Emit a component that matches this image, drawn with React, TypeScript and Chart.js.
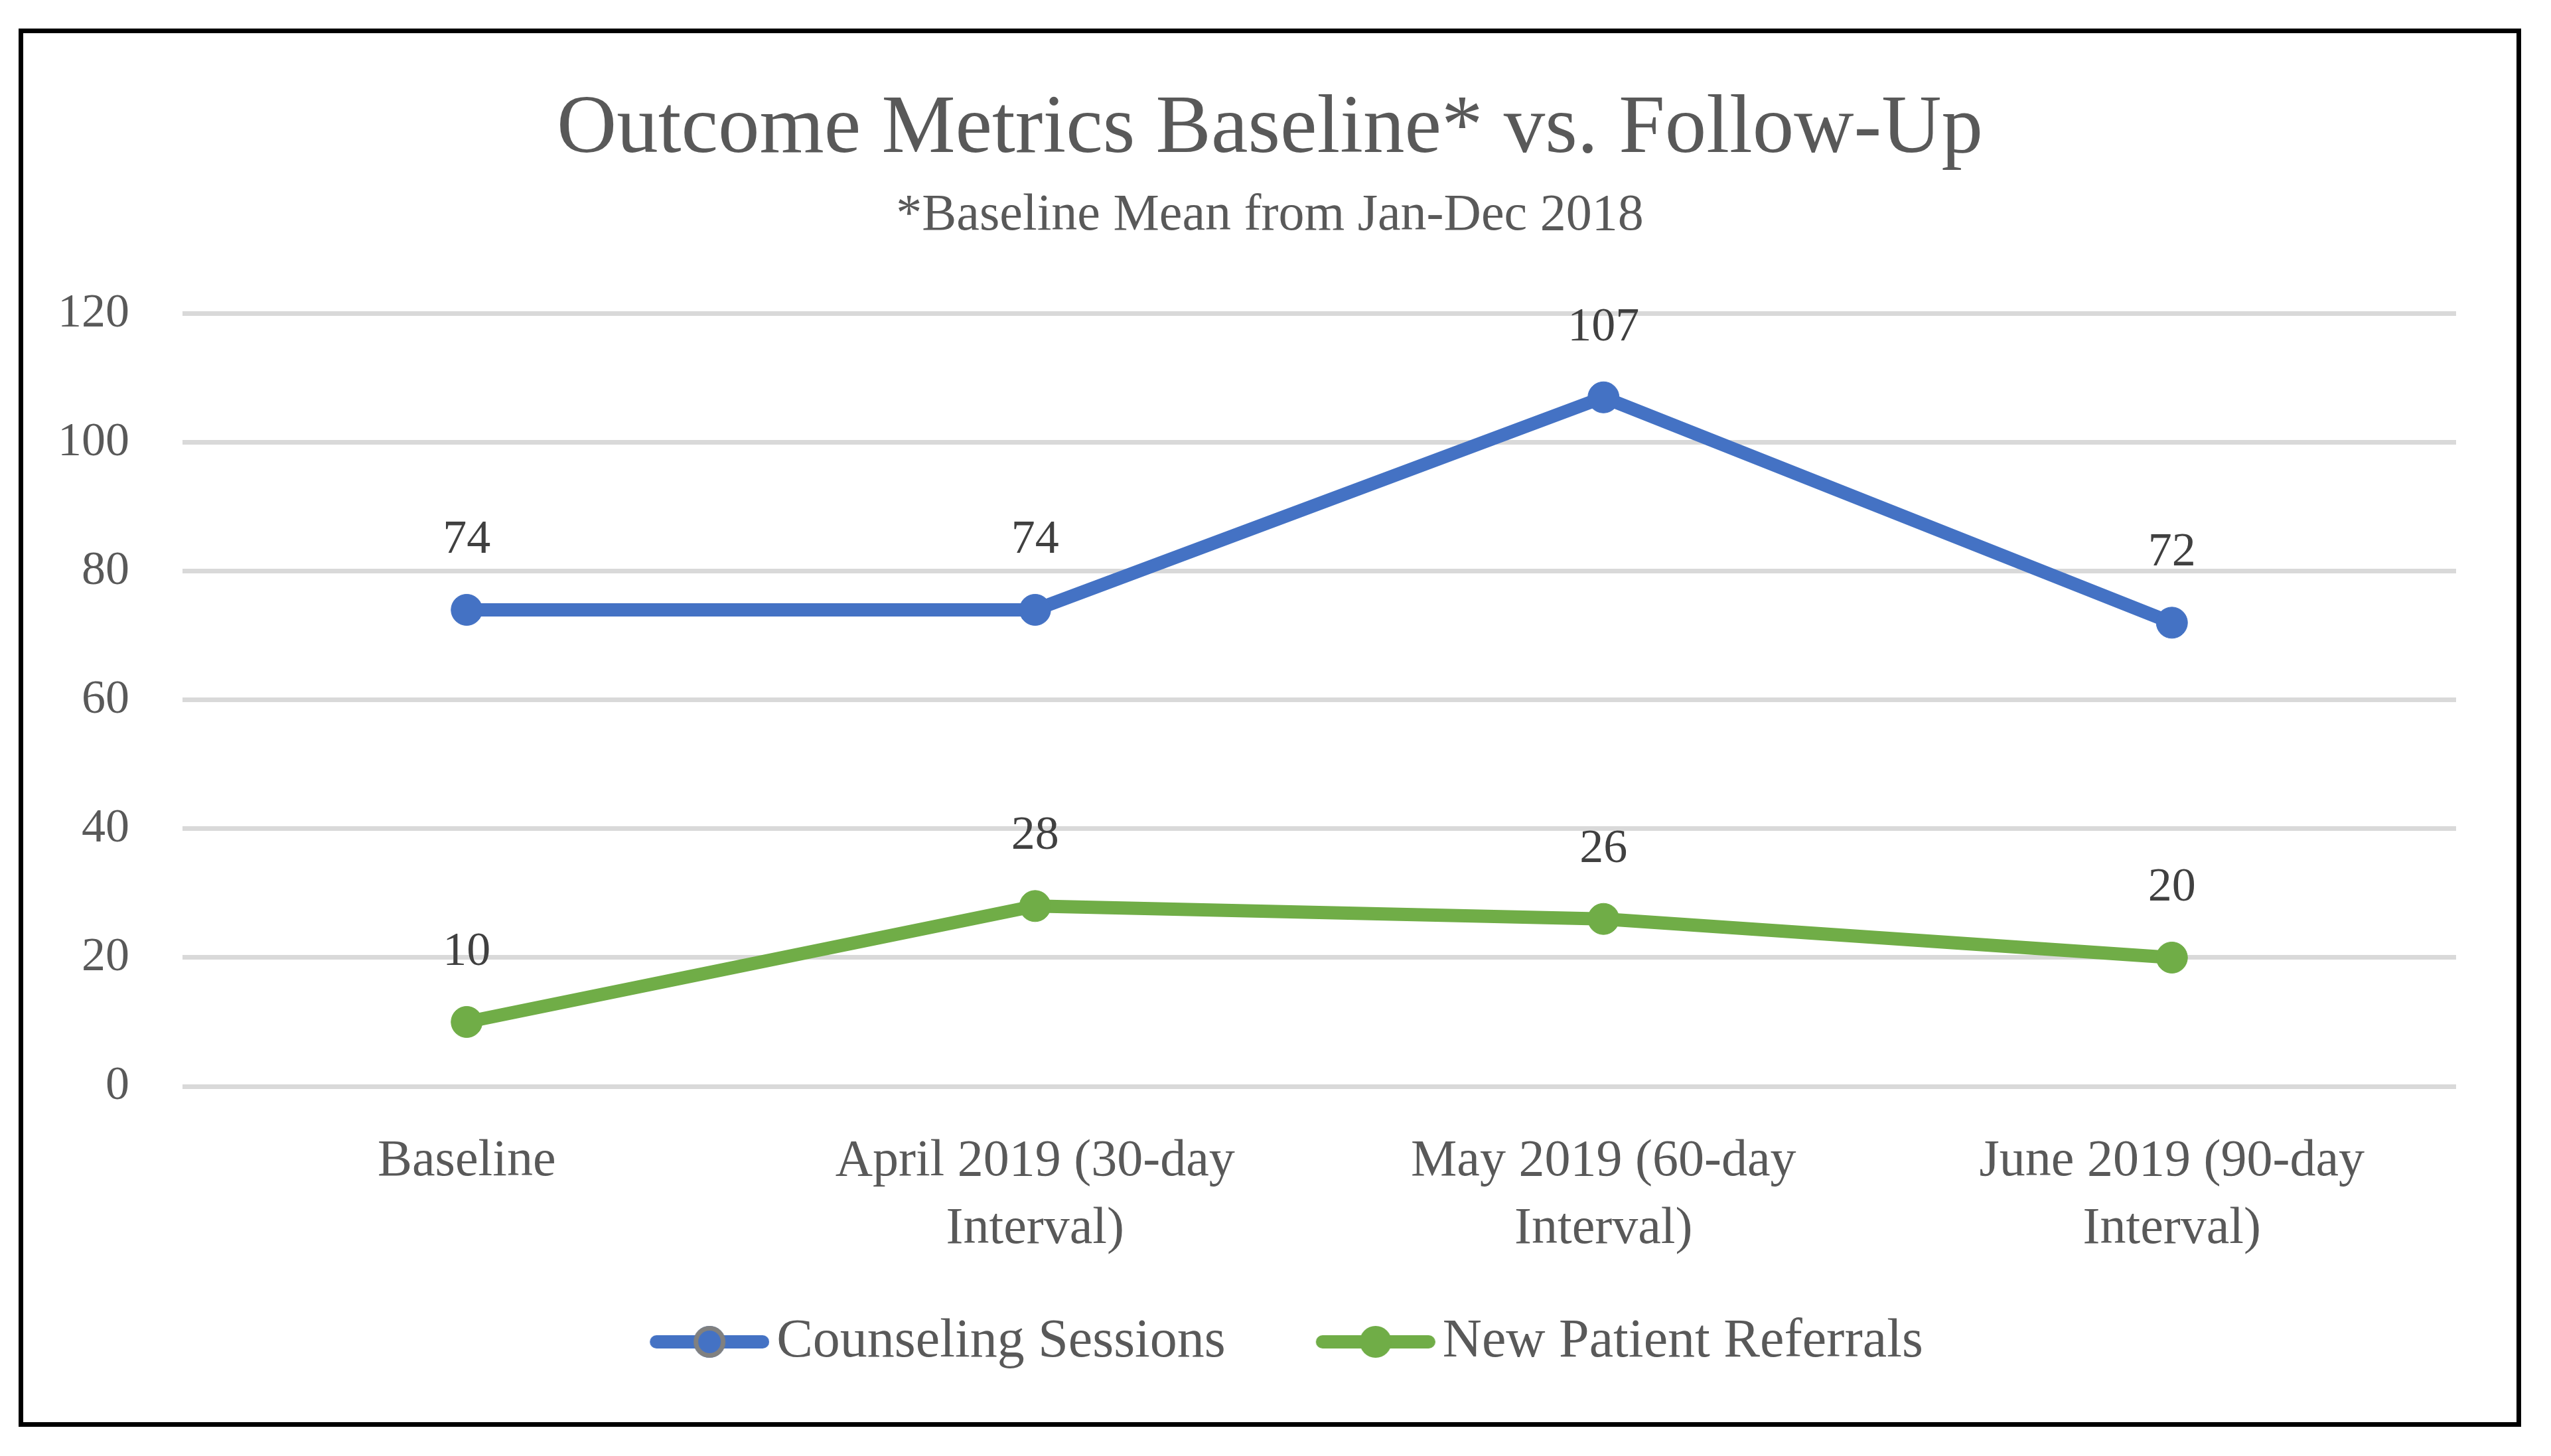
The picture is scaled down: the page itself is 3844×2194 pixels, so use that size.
import React, { useEffect, useRef } from 'react';
import { Chart, registerables } from 'chart.js';

Chart.register(...registerables);

const categories: (string | string[])[] = [
  'Baseline',
  ['April 2019 (30-day', 'Interval)'],
  ['May 2019 (60-day', 'Interval)'],
  ['June 2019 (90-day', 'Interval)'],
];
const counselingSessions = [74, 74, 107, 72];
const newPatientReferrals = [10, 28, 26, 20];
const seriesNames = ['Counseling Sessions', 'New Patient Referrals'];
const seriesColors = ['#4472C4', '#70AD47'];
const titleText = 'Outcome Metrics Baseline* vs. Follow-Up';
const subtitleText = '*Baseline Mean from Jan-Dec 2018';
const yMin = 0;
const yMax = 120;
const yStep = 20;

const FONT = "'Liberation Serif', 'Times New Roman', serif";

// Legend symbol: a thick line with a round marker, drawn into an image
function makeLegendImage(color: string, ring: string | null): HTMLCanvasElement {
  const c = document.createElement('canvas');
  c.width = 260;
  c.height = 52;
  const ctx = c.getContext('2d')!;
  ctx.lineCap = 'round';
  ctx.lineWidth = 20;
  ctx.strokeStyle = color;
  ctx.beginPath();
  ctx.moveTo(90, 26);
  ctx.lineTo(250, 26);
  ctx.stroke();
  ctx.fillStyle = color;
  ctx.beginPath();
  ctx.arc(170, 26, 24, 0, Math.PI * 2);
  ctx.fill();
  if (ring) {
    ctx.strokeStyle = ring;
    ctx.lineWidth = 7;
    ctx.beginPath();
    ctx.arc(170, 26, 20.5, 0, Math.PI * 2);
    ctx.stroke();
  }
  return c;
}

const valueLabels = {
  id: 'valueLabels',
  afterDatasetsDraw(chart: any) {
    const ctx = chart.ctx;
    ctx.save();
    ctx.font = `72px ${FONT}`;
    ctx.fillStyle = '#404040';
    ctx.textAlign = 'center';
    ctx.textBaseline = 'middle';
    chart.data.datasets.forEach((ds: any, i: number) => {
      const meta = chart.getDatasetMeta(i);
      meta.data.forEach((pt: any, j: number) => {
        ctx.fillText(String(ds.data[j]), pt.x, pt.y - 105);
      });
    });
    ctx.restore();
  },
};

export default function App() {
  const ref = useRef<HTMLCanvasElement | null>(null);

  useEffect(() => {
    if (!ref.current) return;
    const images = [makeLegendImage(seriesColors[0], '#808080'), makeLegendImage(seriesColors[1], null)];
    const mkDataset = (label: string, data: number[], color: string) => ({
      label,
      data,
      yAxisID: 'y',
      borderColor: color,
      backgroundColor: color,
      pointBackgroundColor: color,
      pointBorderColor: color,
      borderWidth: 20,
      pointRadius: 23.5,
      pointBorderWidth: 1,
      borderJoinStyle: 'round',
      borderCapStyle: 'round',
      tension: 0,
    });
    const chart = new Chart(ref.current, {
      type: 'line',
      data: {
        labels: categories,
        datasets: [
          mkDataset(seriesNames[0], counselingSessions, seriesColors[0]),
          mkDataset(seriesNames[1], newPatientReferrals, seriesColors[1]),
        ],
      },
      options: {
        responsive: false,
        animation: false,
        layout: { padding: { top: 0, left: 0, right: 0, bottom: 70 } },
        plugins: {
          tooltip: { enabled: false },
          title: {
            display: true,
            text: titleText,
            color: '#595959',
            font: { family: FONT, size: 125, weight: 'normal', lineHeight: 1.2 },
            padding: { top: 71, bottom: 0 },
          },
          subtitle: {
            display: true,
            text: subtitleText,
            color: '#595959',
            font: { family: FONT, size: 78, weight: 'normal', lineHeight: 1.2 },
            padding: { top: 8, bottom: 100 },
          },
          legend: {
            display: true,
            position: 'bottom',
            labels: {
              color: '#595959',
              font: { family: FONT, size: 82 },
              usePointStyle: true,
              pointStyleWidth: 200,
              padding: 86,
              generateLabels: (c: any) =>
                c.data.datasets.map((ds: any, i: number) => ({
                  text: ds.label,
                  pointStyle: images[i],
                  fillStyle: seriesColors[i],
                  strokeStyle: seriesColors[i],
                  lineWidth: 0,
                  hidden: false,
                  datasetIndex: i,
                  fontColor: '#595959',
                })),
            },
          },
        },
        scales: {
          x: {
            type: 'category',
            offset: true,
            grid: { display: false, drawTicks: false },
            border: { display: false },
            ticks: {
              color: '#595959',
              font: { family: FONT, size: 78, lineHeight: 1.3 },
              padding: 63,
              maxRotation: 0,
              autoSkip: false,
            },
            afterFit: (s: any) => {
              s.height = 258;
            },
          },
          y: {
            position: 'left',
            min: yMin,
            max: yMax,
            grid: { color: '#D9D9D9', lineWidth: 7, drawTicks: false },
            border: { display: false },
            ticks: {
              stepSize: yStep,
              color: '#595959',
              font: { family: FONT, size: 72 },
              padding: 80,
            },
            afterFit: (s: any) => {
              s.width = 240;
            },
          },
          yRight: {
            type: 'linear',
            position: 'right',
            display: true,
            grid: { display: false, drawTicks: false },
            border: { display: false },
            ticks: { display: false },
            afterFit: (s: any) => {
              s.width = 91;
            },
          },
        },
      },
      plugins: [valueLabels],
    } as any);
    return () => chart.destroy();
  }, []);

  return (
    <div
      style={{
        position: 'absolute',
        left: 28,
        top: 43,
        width: 3771,
        height: 2107,
        border: '7px solid #000',
        boxSizing: 'border-box',
        background: '#fff',
      }}
    >
      <canvas ref={ref} width={3757} height={2093} style={{ display: 'block', width: 3757, height: 2093 }} />
    </div>
  );
}
